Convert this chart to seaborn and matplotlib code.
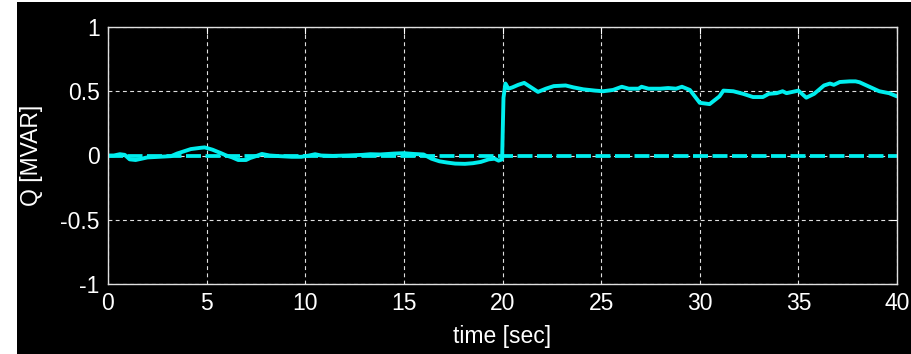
import matplotlib
matplotlib.use('Agg')
import matplotlib.pyplot as plt
from matplotlib.patches import Rectangle
import pandas as pd
import seaborn as sns

# ---------------------------
# Data
# ---------------------------
time_meas = [0.0, 0.3, 0.6, 0.85, 1.1, 1.4, 1.7, 2.0, 2.6, 3.2, 3.5, 3.8, 4.2, 4.7,
             4.9, 5.3, 5.7, 6.0, 6.3, 6.6, 7.0, 7.2, 7.5, 7.8, 8.2, 8.7, 9.3, 9.8,
             10.2, 10.5, 10.8, 11.4, 12.1, 12.9, 13.3, 13.8, 14.5, 15.0, 15.5, 16.0,
             16.4, 16.8, 17.2, 17.6, 18.1, 18.5, 18.9, 19.3, 19.6, 19.8, 19.98,
             20.05, 20.15, 20.3, 20.5, 20.8, 21.1, 21.45, 21.8, 22.2, 22.6, 23.2,
             23.6, 24.1, 24.7, 25.1, 25.6, 26.05, 26.4, 26.9, 27.05, 27.4, 28.0,
             28.4, 28.8, 29.1, 29.5, 29.8, 30.0, 30.5, 31.0, 31.2, 31.7, 32.2,
             32.7, 33.2, 33.5, 33.9, 34.2, 34.4, 34.7, 35.0, 35.4, 35.8, 36.3,
             36.6, 36.8, 37.1, 37.6, 37.9, 38.1, 38.6, 39.1, 39.6, 40.0]
q_meas = [0.0, 0.0, 0.01, 0.005, -0.03, -0.035, -0.025, -0.015, -0.01, -0.005,
          0.015, 0.03, 0.05, 0.06, 0.063, 0.045, 0.02, 0.0, -0.015, -0.035, -0.035,
          -0.02, -0.005, 0.012, 0.0, -0.005, -0.01, -0.01, 0.0, 0.01, 0.0, -0.003,
          0.0, 0.005, 0.01, 0.008, 0.015, 0.018, 0.012, 0.008, -0.025, -0.045,
          -0.055, -0.063, -0.065, -0.06, -0.05, -0.03, -0.025, -0.04, -0.03,
          0.45, 0.56, 0.52, 0.53, 0.55, 0.565, 0.53, 0.495, 0.52, 0.54, 0.545,
          0.53, 0.515, 0.505, 0.5, 0.51, 0.535, 0.52, 0.52, 0.535, 0.52, 0.52,
          0.525, 0.52, 0.535, 0.51, 0.45, 0.41, 0.4, 0.46, 0.505, 0.5, 0.48,
          0.455, 0.455, 0.48, 0.485, 0.5, 0.485, 0.495, 0.505, 0.45, 0.48, 0.545,
          0.56, 0.55, 0.572, 0.577, 0.577, 0.57, 0.535, 0.5, 0.485, 0.46]

time_ref = [0.0, 40.0]
q_ref = [0.0, 0.0]

x_ticks = [0, 5, 10, 15, 20, 25, 30, 35, 40]
y_ticks = [-1, -0.5, 0, 0.5, 1]
y_tick_labels = ["-1", "-0.5", "0", "0.5", "1"]

df_meas = pd.DataFrame({"time": time_meas, "Q": q_meas})
df_ref = pd.DataFrame({"time": time_ref, "Q": q_ref})

# ---------------------------
# Style
# ---------------------------
sns.set_style("dark", rc={
    "axes.facecolor": "black",
    "figure.facecolor": "white",
    "axes.edgecolor": "#e0e0e0",
    "text.color": "white",
    "axes.labelcolor": "white",
    "xtick.color": "white",
    "ytick.color": "white",
})
plt.rcParams['font.family'] = ['Liberation Sans', 'DejaVu Sans']

cyan = "#00eeee"

fig = plt.figure(figsize=(9.12, 3.54), dpi=100)
fig.patches.append(Rectangle((17 / 912, 0), 1 - 17 / 912, 352 / 354,
                             transform=fig.transFigure, facecolor="black",
                             edgecolor="none", zorder=-10))
ax = fig.add_axes([108 / 912, 1 - 284 / 354, (897 - 108) / 912, (284 - 27) / 354])

sns.lineplot(data=df_ref, x="time", y="Q", ax=ax, color=cyan, linewidth=2.7,
             linestyle=(0, (4, 1.2)), estimator=None, sort=False)
sns.lineplot(data=df_meas, x="time", y="Q", ax=ax, color=cyan, linewidth=2.8,
             estimator=None, sort=False)

ax.set_xlim(0, 40)
ax.set_ylim(-1, 1)
ax.set_xticks(x_ticks)
ax.set_yticks(y_ticks)
ax.set_yticklabels(y_tick_labels)

ax.grid(True, color="#e0e0e0", linestyle=(0, (3.5, 3)), linewidth=0.8)
ax.tick_params(direction="in", length=5, width=0.8, labelsize=16.5, pad=6,
               top=True, right=True, colors="white")
for s in ax.spines.values():
    s.set_color("#e0e0e0")
    s.set_linewidth(1.0)

ax.set_xlabel("time [sec]", fontsize=16.5, labelpad=7)
ax.set_ylabel("Q [MVAR]", fontsize=16.5, labelpad=12)

fig.savefig("out.png", dpi=100, facecolor=fig.get_facecolor())
plt.close(fig)
